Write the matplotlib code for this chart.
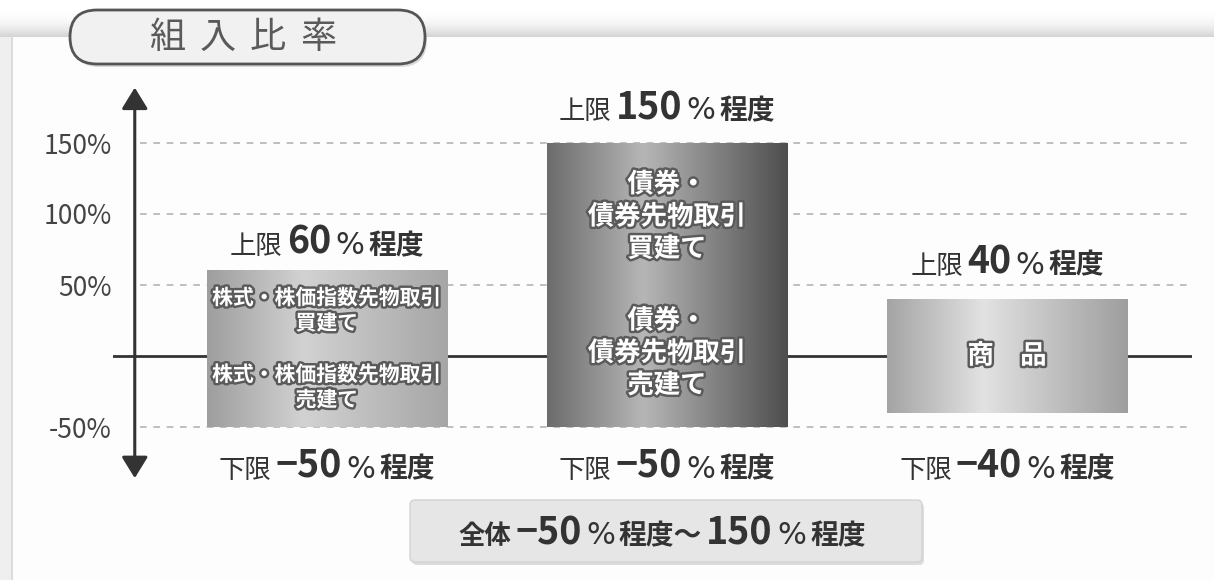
import numpy as np
import matplotlib.pyplot as plt
import matplotlib.patheffects as pe
from matplotlib.colors import LinearSegmentedColormap, to_rgb
from matplotlib.offsetbox import AnnotationBbox, HPacker, TextArea
from matplotlib.patches import FancyBboxPatch, Rectangle

FONTS = ["Noto Sans CJK JP", "DejaVu Sans"]
plt.rcParams["font.family"] = FONTS

# chart data
categories = ["株式・株価指数先物取引", "債券・債券先物取引", "商品"]
upper = [60, 150, 40]
lower = [-50, -50, -40]
total_range = (-50, 150)
yticks = [150, 100, 50, -50]
ytick_labels = ["150%", "100%", "50%", "-50%"]
long_texts = [
    "株式・株価指数先物取引\n買建て",
    "債券・\n債券先物取引\n買建て",
    "商　品",
]
short_texts = [
    "株式・株価指数先物取引\n売建て",
    "債券・\n債券先物取引\n売建て",
    None,
]
title = "組入比率"

# style
bar_w = 0.706
text_sizes = [15, 19, 19]
long_y = [32, 98, 0]
short_y = [-22, 2, None]
label_gap = [20, 25, 26]
bar_stops = [
    ["#9e9e9e", "#d2d2d2", "#a6a6a6"],
    ["#6c6c6c", "#b6b6b6", "#4e4e4e"],
    ["#a4a4a4", "#e2e2e2", "#9e9e9e"],
]
DARK = "#333333"

fig = plt.figure(figsize=(12.14, 5.80), dpi=100)

# background decorations in pixel coords
bg = fig.add_axes([0, 0, 1, 1])
bg.set_xlim(0, 1214)
bg.set_ylim(580, 0)
bg.axis("off")

shade = LinearSegmentedColormap.from_list("shade", ["#ffffff", "#d4d4d4"])
grad = (np.linspace(0, 1, 40) ** 2).reshape(-1, 1)
bg.imshow(grad, extent=(0, 1214, 37, 10), cmap=shade, aspect="auto", zorder=0)
bg.add_patch(Rectangle((0, 37), 13, 543, fc="#efefef", ec="none", zorder=1))
bg.plot([12, 12], [37, 580], color="#dadada", lw=2, zorder=1)
bg.add_patch(Rectangle((13, 37), 1201, 543, fc="#fdfdfd", ec="none", zorder=1))

# title pill
bg.add_patch(FancyBboxPatch((72, 13), 355, 54,
                            boxstyle="round,pad=0,rounding_size=27",
                            fc="#c4c4c4", ec="none", alpha=0.6, zorder=2))
bg.add_patch(FancyBboxPatch((70, 10), 355, 54,
                            boxstyle="round,pad=0,rounding_size=27",
                            fc="#f1f1f1", ec="#555555", lw=2, zorder=3))
for k, ch in enumerate(title):
    bg.text(167 + 50.5 * k, 38, ch, fontsize=26, color="#5a5a5a",
            ha="center", va="center", zorder=4)

# total range box
bg.add_patch(FancyBboxPatch((412, 503), 512, 62,
                            boxstyle="round,pad=0,rounding_size=5",
                            fc="#cfcfcf", ec="none", alpha=0.7, zorder=2))
bg.add_patch(FancyBboxPatch((410, 500), 512, 62,
                            boxstyle="round,pad=0,rounding_size=5",
                            fc="#e6e6e6", ec="#d2d2d2", lw=1, zorder=3))


def rich_label(axis, x, y, pieces, coords="data"):
    boxes = []
    for s, fs, fw in pieces:
        fam = "DejaVu Sans" if s == "%" else FONTS
        boxes.append(TextArea(s, textprops=dict(fontsize=fs, fontweight=fw,
                                                color=DARK, fontfamily=fam)))
    pack = HPacker(children=boxes, align="baseline", pad=0, sep=3)
    ab = AnnotationBbox(pack, (x, y), xycoords=coords, frameon=False,
                        box_alignment=(0.5, 0.5), annotation_clip=False,
                        zorder=6)
    axis.add_artist(ab)


lo, hi = total_range
rich_label(bg, 662, 533, [
    ("全体", 19, "bold"),
    (f"−{abs(lo)}", 27, "bold"),
    ("%", 22, "normal"),
    ("程度〜", 20, "bold"),
    (f"{hi}", 27, "bold"),
    ("%", 22, "normal"),
    ("程度", 20, "bold"),
])

# main chart
ax = fig.add_axes([113 / 1214, (580 - 476.7) / 580, 1079 / 1214, 390.5 / 580])
ax.patch.set_visible(False)
for s in ax.spines.values():
    s.set_visible(False)

ax.hlines(yticks, -0.55, 2.544, colors="#b4b4b4", linestyles=(0, (4, 4)),
          lw=1.2, zorder=1)
ax.axhline(0, color=DARK, lw=2, zorder=2)

xs = np.linspace(0, 1, 200)
for i, (top, bottom) in enumerate(zip(upper, lower)):
    stops = [np.array(to_rgb(c)) for c in bar_stops[i]]
    rgb = np.empty((1, len(xs), 3))
    for c in range(3):
        rgb[0, :, c] = np.interp(xs, [0, 0.4, 1],
                                 [stops[0][c], stops[1][c], stops[2][c]])
    ax.imshow(rgb, extent=(i - bar_w / 2, i + bar_w / 2, bottom, top),
              aspect="auto", interpolation="bilinear", zorder=3)

    glow = [pe.withStroke(linewidth=3.5, foreground="#5a5a5a")]
    ax.text(i, long_y[i], long_texts[i], ha="center", va="center",
            fontsize=text_sizes[i], fontweight="bold", color="white",
            linespacing=1.25, path_effects=glow, zorder=5)
    if short_texts[i]:
        ax.text(i, short_y[i], short_texts[i], ha="center", va="center",
                fontsize=text_sizes[i], fontweight="bold", color="white",
                linespacing=1.25, path_effects=glow, zorder=5)

    rich_label(ax, i, top + label_gap[i], [
        ("上限", 19, "normal"),
        (f"{top}", 27, "bold"),
        ("%", 22, "normal"),
        ("程度", 20, "bold"),
    ])
    rich_label(ax, i, -77.5, [
        ("下限", 19, "normal"),
        (f"−{abs(bottom)}", 27, "bold"),
        ("%", 22, "normal"),
        ("程度", 20, "bold"),
    ])

# y axis arrow
ax.annotate("", xy=(-0.565, 189), xytext=(-0.565, -86),
            arrowprops=dict(arrowstyle="<|-|>,head_length=0.65,head_width=0.4",
                            mutation_scale=20, color=DARK, lw=2.2,
                            shrinkA=0, shrinkB=0),
            annotation_clip=False, zorder=4)

ax.set_xticks([])
ax.set_yticks(yticks, labels=ytick_labels)
ax.tick_params(axis="y", length=0, pad=1, labelsize=19, labelcolor="#444444")
ax.set_xlim(-0.629, 2.544)
ax.set_ylim(-85, 190)

fig.savefig("out.png", dpi=100)
